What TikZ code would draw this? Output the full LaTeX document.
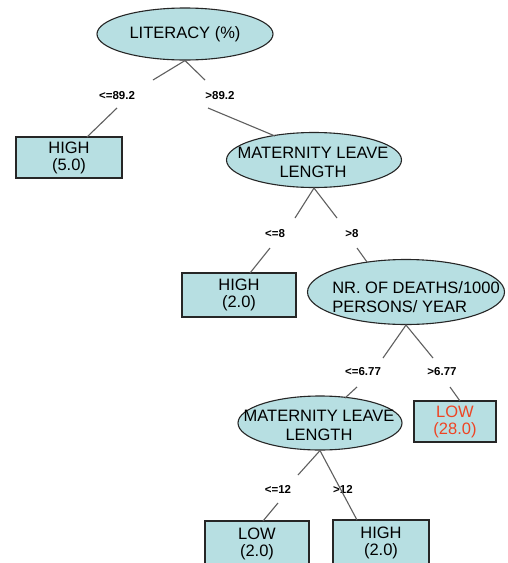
\documentclass[tikz,border=0pt]{standalone}
\usepackage{fontspec}
\setmainfont{Liberation Sans}
\usetikzlibrary{shapes.geometric,calc}
\definecolor{nodefill}{RGB}{183,223,226}
\definecolor{lowred}{RGB}{238,68,36}
\definecolor{edgegray}{RGB}{95,95,95}
\begin{document}
\begin{tikzpicture}[x=1pt,y=-1pt,
  shell/.style={ellipse, draw=black!85, line width=1.1pt, fill=nodefill, inner sep=0pt},
  attrtext/.style={inner sep=0pt, font=\fontsize{16.5}{19}\selectfont, align=center},
  leaf/.style={rectangle, draw=black!85, line width=1.3pt, fill=nodefill, inner sep=0pt, font=\fontsize{16.5}{17}\selectfont, align=center},
  cond/.style={inner sep=1pt, font=\fontsize{11.5}{13}\selectfont\bfseries},
  branch/.style={draw=edgegray, line width=1.1pt}]
\clip (0,0) rectangle (507,563);
\fill[white] (0,0) rectangle (507,563);

% ---- nodes ----
\node[shell, minimum width=176pt, minimum height=52pt] (lit) at (185,34) {};
\node[attrtext] (litt) at (185,34) {LITERACY (\%)};

\node[leaf, minimum width=106pt, minimum height=41pt] (high5) at (69,157.5) {HIGH\\(5.0)};

\node[shell, minimum width=175pt, minimum height=55pt] (mat1) at (314,160) {};
\node[attrtext] (mat1t) at (313,162) {MATERNITY LEAVE\\LENGTH};

\node[leaf, minimum width=114pt, minimum height=44pt] (high2) at (239,295) {HIGH\\(2.0)};

\node[shell, minimum width=197pt, minimum height=65pt] (nr) at (406,292) {};
\node[attrtext, align=left] (nrt) at (416,297) {NR. OF DEATHS/1000\\PERSONS/ YEAR};

\node[leaf, minimum width=82pt, minimum height=41pt, text=lowred] (low28) at (455,421.5) {LOW\\(28.0)};

\node[shell, minimum width=164pt, minimum height=54pt] (mat2) at (320,423) {};
\node[attrtext] (mat2t) at (319,425) {MATERNITY LEAVE\\LENGTH};

\node[leaf, minimum width=104pt, minimum height=46pt] (low2) at (257,544) {LOW\\(2.0)};
\node[leaf, minimum width=96pt, minimum height=46pt] (high2b) at (381,543) {HIGH\\(2.0)};

% ---- condition labels ----
\node[cond] (l1) at (117,96) {<=89.2};
\node[cond] (l2) at (220,96) {>89.2};
\node[cond] (l3) at (275,234) {<=8};
\node[cond] (l4) at (352,234) {>8};
\node[cond] (l5) at (363,372) {<=6.77};
\node[cond] (l6) at (442,372) {>6.77};
\node[cond] (l7) at (278,489) {<=12};
\node[cond] (l8) at (343,489) {>12};

% ---- connector points ----
\coordinate (a1) at (153,80);  \coordinate (a2) at (205,80);
\coordinate (b1) at (117,108); \coordinate (b1e) at (87,137);
\coordinate (b2) at (208,108); \coordinate (b2e) at (275,136);
\coordinate (c1) at (295,218); \coordinate (c2) at (337,218);
\coordinate (d1) at (270,248); \coordinate (d1e) at (250,273);
\coordinate (d2) at (357,248); \coordinate (d2e) at (367,262);
\coordinate (e1) at (383,358); \coordinate (e2) at (433,358);
\coordinate (f1) at (357,387); \coordinate (f1e) at (345,398);
\coordinate (f2) at (450,387); \coordinate (f2e) at (460,401);
\coordinate (g1) at (298,475); \coordinate (g2e) at (357,520);
\coordinate (h1) at (278,503); \coordinate (h1e) at (263,521);

% ---- connectors ----
\draw[branch] (a1) -- (lit.south) -- (a2);
\draw[branch] (b1) -- (b1e);
\draw[branch] (b2) -- (b2e);
\draw[branch] (c1) -- (mat1.south) -- (c2);
\draw[branch] (d1) -- (d1e);
\draw[branch] (d2) -- (d2e);
\draw[branch] (e1) -- (nr.south) -- (e2);
\draw[branch] (f1) -- (f1e);
\draw[branch] (f2) -- (f2e);
\draw[branch] (g1) -- (mat2.south) -- (g2e);
\draw[branch] (h1) -- (h1e);
\end{tikzpicture}
\end{document}
